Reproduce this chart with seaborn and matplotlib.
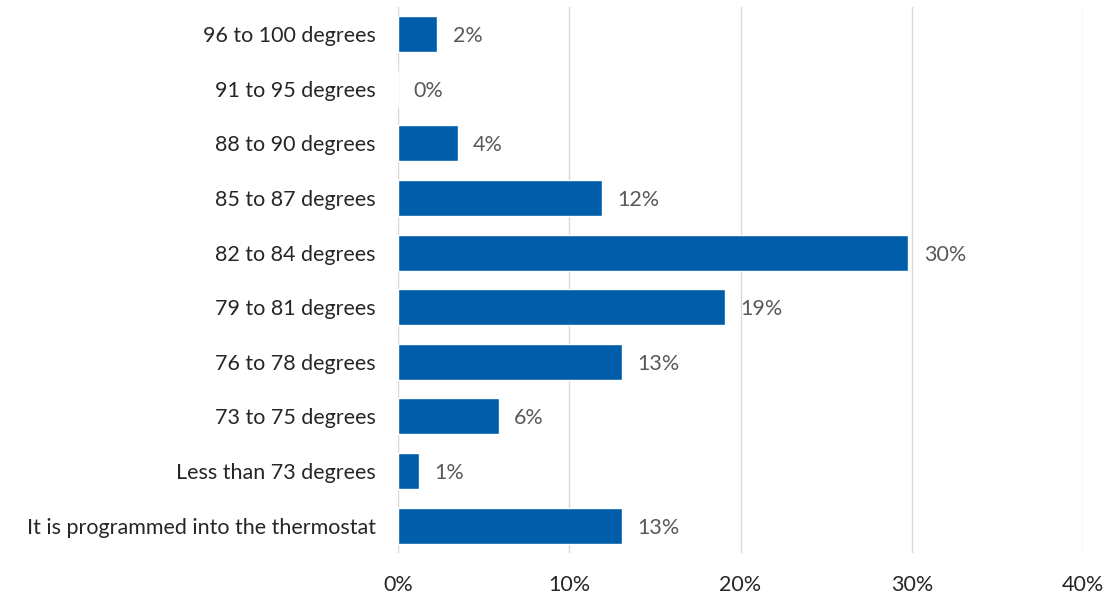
import matplotlib
matplotlib.use("Agg")
import matplotlib.pyplot as plt
import seaborn as sns
import pandas as pd

categories = [
    "96 to 100 degrees",
    "91 to 95 degrees",
    "88 to 90 degrees",
    "85 to 87 degrees",
    "82 to 84 degrees",
    "79 to 81 degrees",
    "76 to 78 degrees",
    "73 to 75 degrees",
    "Less than 73 degrees",
    "It is programmed into the thermostat",
]
values = [2.3, 0.0, 3.5, 11.9, 29.8, 19.1, 13.1, 5.9, 1.2, 13.1]
value_labels = ["2%", "0%", "4%", "12%", "30%", "19%", "13%", "6%", "1%", "13%"]
x_ticks = [0, 10, 20, 30, 40]
x_tick_labels = ["0%", "10%", "20%", "30%", "40%"]

df = pd.DataFrame({"category": categories, "value": values})

sns.set_theme(style="white")
plt.rcParams["font.family"] = ["Lato", "DejaVu Sans"]

fig = plt.figure(figsize=(11.09, 5.99), dpi=100)
ax = fig.add_axes([0.3589, 0.0768, 0.9766 - 0.3589, 0.9888 - 0.0768])

bar_color = "#005DAA"
sns.barplot(data=df, x="value", y="category", orient="h", color=bar_color,
            width=0.66, saturation=1, ax=ax, order=categories)

ax.set_xlim(0, 40)
ax.set_xticks(x_ticks)
ax.set_xticklabels(x_tick_labels)
ax.set_xlabel("")
ax.set_ylabel("")
ax.grid(axis="x", color="#d9d9d9", linewidth=1)
ax.set_axisbelow(True)
for s in ax.spines.values():
    s.set_visible(False)
fs = 15.5
ax.tick_params(axis="both", length=0, labelsize=fs, colors="#262626")
ax.tick_params(axis="y", pad=16)
ax.tick_params(axis="x", pad=16)

for i, (v, lab) in enumerate(zip(values, value_labels)):
    ax.annotate(lab, xy=(v, i), xytext=(11, 0), textcoords="offset points",
                va="center_baseline", ha="left", fontsize=fs, color="#595959")

fig.savefig("out.png", dpi=100)
